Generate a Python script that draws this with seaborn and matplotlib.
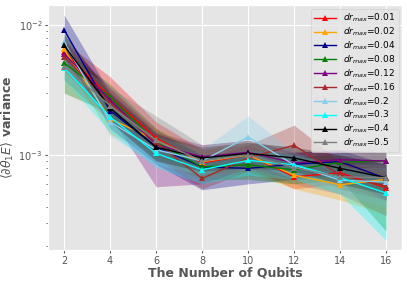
import numpy as np
import pandas as pd
import matplotlib
matplotlib.use('Agg')
import matplotlib.pyplot as plt
import seaborn as sns

qubits = [2, 4, 6, 8, 10, 12, 14, 16]
dr_max = ['0.01', '0.02', '0.04', '0.08', '0.12', '0.16', '0.2', '0.3', '0.4', '0.5']
colors = ['red', 'orange', 'darkblue', 'green', 'purple', 'brown', 'skyblue', 'cyan', 'black', 'gray']

means = {
    '0.01': [6.2e-3, 2.8e-3, 1.35e-3, 8.7e-4, 1.0e-3, 6.8e-4, 7.3e-4, 5.6e-4],
    '0.02': [6.5e-3, 1.9e-3, 1.3e-3, 8.9e-4, 1.0e-3, 7.0e-4, 5.9e-4, 6.5e-4],
    '0.04': [9.2e-3, 2.2e-3, 1.15e-3, 8.1e-4, 7.9e-4, 8.5e-4, 8.9e-4, 6.6e-4],
    '0.08': [5.1e-3, 2.8e-3, 1.25e-3, 8.1e-4, 8.4e-4, 7.7e-4, 8.8e-4, 9.0e-4],
    '0.12': [6.0e-3, 2.65e-3, 1.2e-3, 9.7e-4, 1.05e-3, 8.7e-4, 9.2e-4, 9.0e-4],
    '0.16': [5.7e-3, 2.5e-3, 1.25e-3, 6.6e-4, 9.5e-4, 1.19e-3, 7.0e-4, 5.8e-4],
    '0.2': [7.4e-3, 1.8e-3, 1.1e-3, 9.0e-4, 1.38e-3, 8.4e-4, 6.4e-4, 6.2e-4],
    '0.3': [4.7e-3, 1.96e-3, 1.03e-3, 7.7e-4, 9.1e-4, 8.4e-4, 6.7e-4, 5.1e-4],
    '0.4': [7.0e-3, 2.3e-3, 1.15e-3, 9.5e-4, 1.03e-3, 9.5e-4, 7.9e-4, 6.7e-4],
    '0.5': [4.8e-3, 2.4e-3, 1.3e-3, 9.0e-4, 1.0e-3, 8.0e-4, 6.8e-4, 6.7e-4],
}
upper = {
    '0.01': [7.5e-3, 4.0e-3, 1.8e-3, 1.1e-3, 1.2e-3, 8.5e-4, 9.0e-4, 7.0e-4],
    '0.02': [7.8e-3, 2.6e-3, 1.6e-3, 1.1e-3, 1.3e-3, 9.0e-4, 7.5e-4, 8.0e-4],
    '0.04': [1.2e-2, 3.0e-3, 1.5e-3, 1.0e-3, 1.0e-3, 1.05e-3, 1.1e-3, 8.5e-4],
    '0.08': [6.5e-3, 3.5e-3, 1.6e-3, 1.0e-3, 1.05e-3, 9.5e-4, 1.05e-3, 1.05e-3],
    '0.12': [7.5e-3, 3.3e-3, 1.5e-3, 1.2e-3, 1.3e-3, 1.05e-3, 1.1e-3, 1.05e-3],
    '0.16': [7.0e-3, 3.2e-3, 1.6e-3, 9.0e-4, 1.2e-3, 1.7e-3, 9.0e-4, 7.5e-4],
    '0.2': [8.8e-3, 2.3e-3, 1.4e-3, 1.1e-3, 2.0e-3, 1.05e-3, 8.0e-4, 8.0e-4],
    '0.3': [5.8e-3, 2.5e-3, 1.25e-3, 9.5e-4, 1.1e-3, 1.0e-3, 8.5e-4, 6.5e-4],
    '0.4': [8.5e-3, 3.0e-3, 1.45e-3, 1.15e-3, 1.25e-3, 1.15e-3, 1.0e-3, 8.5e-4],
    '0.5': [6.0e-3, 3.3e-3, 2.0e-3, 1.2e-3, 1.3e-3, 1.0e-3, 8.5e-4, 8.5e-4],
}
lower = {
    '0.01': [5.0e-3, 2.0e-3, 1.0e-3, 7.0e-4, 8.0e-4, 5.5e-4, 6.0e-4, 4.5e-4],
    '0.02': [5.2e-3, 1.45e-3, 1.0e-3, 7.0e-4, 7.5e-4, 5.5e-4, 4.5e-4, 3.5e-4],
    '0.04': [7.0e-3, 1.6e-3, 8.5e-4, 5.4e-4, 6.0e-4, 6.5e-4, 7.0e-4, 4.5e-4],
    '0.08': [3.0e-3, 2.1e-3, 9.5e-4, 6.5e-4, 6.5e-4, 6.0e-4, 6.5e-4, 2.6e-4],
    '0.12': [4.8e-3, 2.0e-3, 5.7e-4, 6.0e-4, 8.0e-4, 6.5e-4, 7.0e-4, 5.5e-4],
    '0.16': [4.5e-3, 1.9e-3, 9.5e-4, 5.5e-4, 7.5e-4, 8.5e-4, 5.5e-4, 4.5e-4],
    '0.2': [6.0e-3, 1.4e-3, 8.5e-4, 7.0e-4, 9.0e-4, 6.5e-4, 5.0e-4, 4.0e-4],
    '0.3': [3.8e-3, 1.5e-3, 8.0e-4, 6.0e-4, 7.0e-4, 6.5e-4, 5.0e-4, 2.2e-4],
    '0.4': [5.5e-3, 1.8e-3, 9.0e-4, 7.5e-4, 8.0e-4, 7.5e-4, 6.0e-4, 5.0e-4],
    '0.5': [3.8e-3, 1.8e-3, 9.0e-4, 6.5e-4, 7.5e-4, 6.0e-4, 5.0e-4, 3.4e-4],
}

rows = []
for d in dr_max:
    for q, m in zip(qubits, means[d]):
        rows.append({'qubits': q, 'var': m, 'dr': r'$dr_{max}$=' + d})
df = pd.DataFrame(rows)

plt.style.use('ggplot')
fig, ax = plt.subplots(figsize=(4.07, 2.85), dpi=100)
fig.subplots_adjust(left=0.118, right=0.988, top=0.982, bottom=0.123)

for d, c in zip(dr_max, colors):
    ax.fill_between(qubits, lower[d], upper[d], color=c, alpha=0.3, linewidth=0)

sns.lineplot(data=df, x='qubits', y='var', hue='dr', palette=colors, marker='^',
             markersize=4.5, markeredgewidth=0, linewidth=1, ax=ax)

ax.set_yscale('log')
ax.set_ylim(1.86e-4, 1.425e-2)
ax.set_xlim(1.3, 16.7)
ax.set_xticks([2, 4, 6, 8, 10, 12, 14, 16])
ax.tick_params(labelsize=7, length=2, pad=2)
ax.tick_params(which='minor', length=1.5)
ax.set_xlabel('The Number of Qubits', fontsize=9, fontweight='bold', color='#555555', labelpad=1)
ax.set_ylabel(r'$\langle\partial\theta_1 E\rangle$ variance', fontsize=9, fontweight='bold',
              color='#555555', labelpad=2)
ax.legend(loc='upper right', fontsize=6.5, handlelength=2.4, labelspacing=0.15,
          borderpad=0.35, borderaxespad=0.4, framealpha=0.8)
fig.savefig('out.png', dpi=100)
